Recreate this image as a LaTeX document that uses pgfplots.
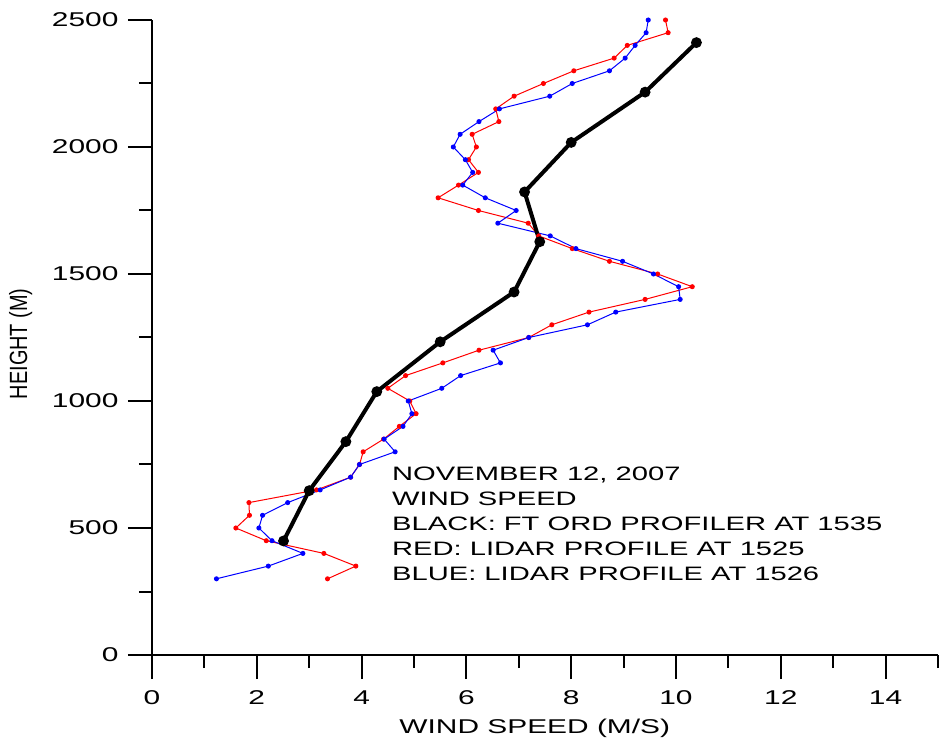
\documentclass[border=0pt]{standalone}
\usepackage{fontspec}
\setmainfont{Liberation Sans}[FakeStretch=1.5]
\newfontfamily\ylabfont{Liberation Sans}
\usepackage{pgfplots}
\pgfplotsset{compat=1.18}

% lidar profiles, one row every 50 m
\pgfplotstableread{
h red blue
300 3.35 1.23
350 3.89 2.22
400 3.28 2.88
450 2.18 2.29
500 1.60 2.04
550 1.86 2.11
600 1.85 2.59
650 3.14 3.21
700 3.79 3.79
750 3.96 3.96
800 4.03 4.64
850 4.42 4.43
900 4.72 4.79
950 5.04 4.96
1000 4.92 4.89
1050 4.50 5.53
1100 4.84 5.89
1150 5.55 6.65
1200 6.24 6.51
1250 7.19 7.19
1300 7.63 8.31
1350 8.34 8.85
1400 9.41 10.08
1450 10.31 10.05
1500 9.65 9.57
1550 8.73 8.98
1600 8.02 8.09
1650 7.38 7.60
1700 7.18 6.60
1750 6.23 6.95
1800 5.46 6.36
1850 5.85 5.93
1900 6.23 6.12
1950 6.04 5.98
2000 6.19 5.75
2050 6.11 5.88
2100 6.62 6.24
2150 6.56 6.63
2200 6.91 7.59
2250 7.47 8.02
2300 8.05 8.73
2350 8.82 9.03
2400 9.07 9.22
2450 9.85 9.43
2500 9.80 9.47
}\lidar

% wind profiler
\pgfplotstableread{
h spd
449 2.51
647 3.00
840 3.70
1037 4.29
1233 5.50
1429 6.91
1627 7.40
1823 7.11
2018 8.00
2216 9.41
2411 10.39
}\profiler

\begin{document}
\begin{tikzpicture}
\useasboundingbox (-152bp,-90bp) rectangle (795bp,655bp);
\begin{axis}[
  scale only axis, width=786bp, height=635bp,
  xmin=0, xmax=15, ymin=0, ymax=2500,
  axis lines=left,
  axis line style={-, line width=2bp, black},
  xtick={0,2,...,14}, minor xtick={1,3,...,15},
  ytick={0,500,...,2500}, minor ytick={250,750,...,2250},
  tick align=outside,
  major tick length=24bp, minor tick length=13bp,
  every tick/.style={black, line width=2bp},
  /pgf/number format/assume math mode=true,
  /pgf/number format/1000 sep={},
  tick label style={font=\fontsize{20}{24}\selectfont},
  xticklabel style={yshift=-8bp},
  yticklabel style={xshift=-6bp},
  xlabel={WIND SPEED (M/S)},
  x label style={at={(axis description cs:0.487,-0.123)}, anchor=base,
    font=\fontsize{20}{24}\selectfont},
  ylabel={\ylabfont\fontsize{20}{22}\selectfont\scalebox{1}[1.25]{HEIGHT (M)}},
  y label style={at={(axis description cs:-0.167,0.49)}, anchor=center},
  clip=false,
]
\addplot[red, line width=1bp, mark=*, mark size=2bp] table[x=red, y=h] {\lidar};
\addplot[blue, line width=1bp, mark=*, mark size=2bp] table[x=blue, y=h] {\lidar};
\addplot[black, line width=4bp, mark=*, mark size=3.3bp] table[x=spd, y=h] {\profiler};
\end{axis}
\node[anchor=north west, inner sep=0pt, align=left,
  font=\fontsize{19.5}{25}\selectfont] at (240bp,188bp)
  {NOVEMBER 12, 2007\\WIND SPEED\\BLACK: FT ORD PROFILER AT 1535\\RED: LIDAR PROFILE AT 1525\\BLUE: LIDAR PROFILE AT 1526};
\end{tikzpicture}
\end{document}
